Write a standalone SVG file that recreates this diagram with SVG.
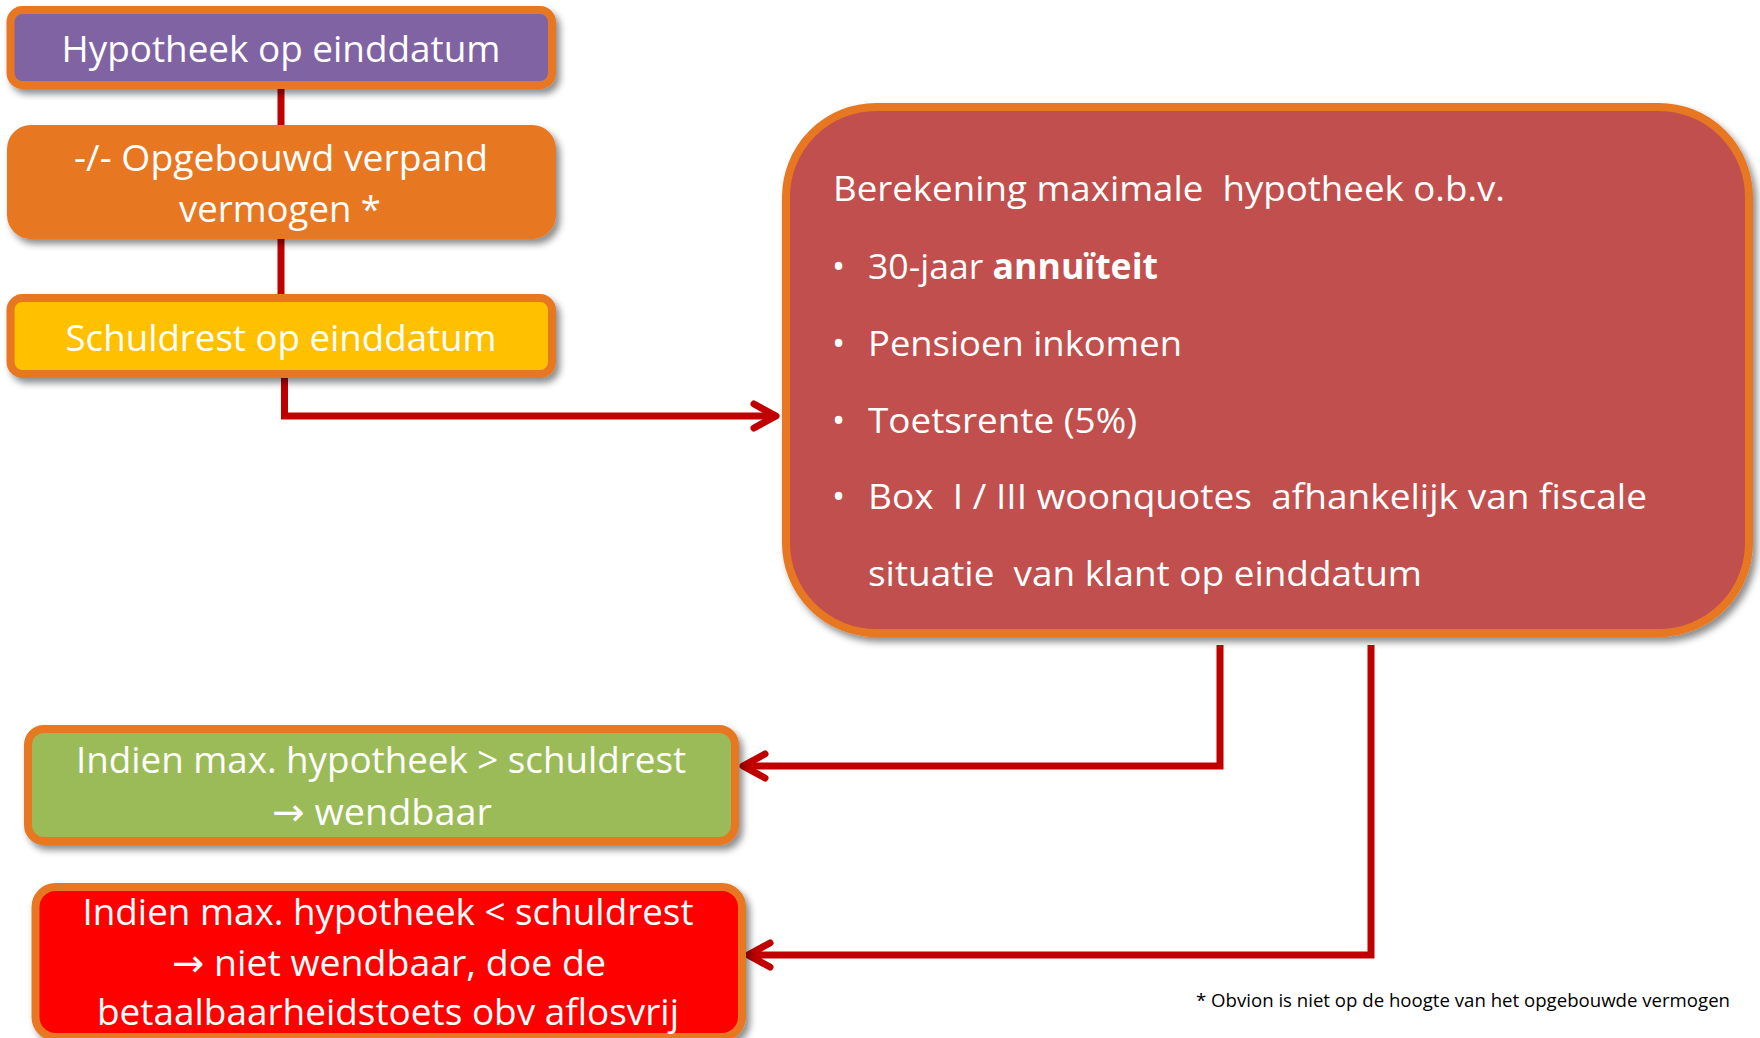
<svg xmlns="http://www.w3.org/2000/svg" width="1760" height="1038" viewBox="0 0 1760 1038">
<style>
  .lbl { font-family: "Open Sans", "Liberation Sans", sans-serif; fill: #FFFFFF; }
  .box { font-size: 37px; text-anchor: middle; }
  .big { font-size: 35px; }
  .arw { font-family: "DejaVu Sans", sans-serif; font-size: 38px; }
  .note { font-family: "Open Sans", "Liberation Sans", sans-serif; font-size: 19px; fill: #000000; }
  .conn { fill: none; stroke: #C00000; stroke-width: 7; stroke-linejoin: miter; }
</style>
<defs>
  <filter id="sh" x="-10%" y="-10%" width="125%" height="130%">
    <feDropShadow dx="4" dy="5" stdDeviation="3.5" flood-color="#000000" flood-opacity="0.45"/>
  </filter>
  <marker id="arr" markerUnits="userSpaceOnUse" markerWidth="40" markerHeight="40" viewBox="-30 -20 40 40" refX="0" refY="0" orient="auto">
    <path d="M -22 -12 L 0 0 L -22 12" fill="none" stroke="#C00000" stroke-width="7" stroke-linecap="round" stroke-linejoin="round"/>
  </marker>
</defs>
<rect width="1760" height="1038" fill="#FFFFFF"/>

<g id="connectors">
  <line class="conn" x1="281" y1="86" x2="281" y2="128" stroke-width="8"/>
  <line class="conn" x1="281" y1="236" x2="281" y2="298" stroke-width="8"/>
  <path class="conn" d="M 284.5 374 V 416 H 776" marker-end="url(#arr)"/>
  <path class="conn" d="M 1220 645 V 766 H 743" marker-end="url(#arr)"/>
  <path class="conn" d="M 1371 645 V 955 H 748" marker-end="url(#arr)"/>
</g>

<g id="node-hypotheek">
  <rect x="10.5" y="10" width="541.5" height="75" rx="12" fill="#8064A2" stroke="#E87722" stroke-width="8" filter="url(#sh)"/>
  <text class="lbl box" x="281" y="62" textLength="439" lengthAdjust="spacingAndGlyphs">Hypotheek op einddatum</text>
</g>

<g id="node-opgebouwd">
  <rect x="7" y="125" width="549" height="114" rx="24" fill="#E87722" filter="url(#sh)"/>
  <text class="lbl box" x="281" y="171" textLength="414" lengthAdjust="spacingAndGlyphs">-/- Opgebouwd verpand</text>
  <text class="lbl box" x="280" y="222" textLength="202" lengthAdjust="spacingAndGlyphs">vermogen *</text>
</g>

<g id="node-schuldrest">
  <rect x="10.5" y="298" width="541.5" height="76" rx="12" fill="#FFC000" stroke="#E87722" stroke-width="8" filter="url(#sh)"/>
  <text class="lbl box" x="281" y="351" textLength="431" lengthAdjust="spacingAndGlyphs">Schuldrest op einddatum</text>
</g>

<g id="node-berekening">
  <rect x="786" y="107" width="963" height="526" rx="90" fill="#C0504D" stroke="#E87722" stroke-width="8" filter="url(#sh)"/>
  <text class="lbl big" x="833" y="201" xml:space="preserve" textLength="672" lengthAdjust="spacingAndGlyphs">Berekening maximale  hypotheek o.b.v.</text>
  <text class="lbl big" x="832" y="279">•</text>
  <text class="lbl big" x="868" y="279" textLength="290" lengthAdjust="spacingAndGlyphs">30-jaar <tspan font-weight="bold">annuïteit</tspan></text>
  <text class="lbl big" x="832" y="356">•</text>
  <text class="lbl big" x="868" y="356" textLength="314" lengthAdjust="spacingAndGlyphs">Pensioen inkomen</text>
  <text class="lbl big" x="832" y="433">•</text>
  <text class="lbl big" x="868" y="433" textLength="269" lengthAdjust="spacingAndGlyphs">Toetsrente (5%)</text>
  <text class="lbl big" x="832" y="509">•</text>
  <text class="lbl big" x="868" y="509" xml:space="preserve" textLength="779" lengthAdjust="spacingAndGlyphs">Box  I / III woonquotes  afhankelijk van fiscale</text>
  <text class="lbl big" x="868" y="586" xml:space="preserve" textLength="554" lengthAdjust="spacingAndGlyphs">situatie  van klant op einddatum</text>
</g>

<g id="node-wendbaar">
  <rect x="28" y="729" width="707" height="112" rx="16" fill="#9BBB59" stroke="#E87722" stroke-width="8" filter="url(#sh)"/>
  <text class="lbl box" x="381" y="773" textLength="610" lengthAdjust="spacingAndGlyphs">Indien max. hypotheek &gt; schuldrest</text>
  <text class="lbl box" x="382" y="825" textLength="220" lengthAdjust="spacingAndGlyphs"><tspan class="arw">→</tspan> wendbaar</text>
</g>

<g id="node-niet-wendbaar">
  <rect x="35.5" y="887" width="706.5" height="150" rx="20" fill="#FF0000" stroke="#E87722" stroke-width="8" filter="url(#sh)"/>
  <text class="lbl box" x="388" y="925" textLength="611" lengthAdjust="spacingAndGlyphs">Indien max. hypotheek &lt; schuldrest</text>
  <text class="lbl box" x="389" y="976" textLength="434" lengthAdjust="spacingAndGlyphs"><tspan class="arw">→</tspan> niet wendbaar, doe de</text>
  <text class="lbl box" x="388" y="1025" textLength="582" lengthAdjust="spacingAndGlyphs">betaalbaarheidstoets obv aflosvrij</text>
</g>

<g id="footnote">
  <text class="note" x="1196" y="1007" textLength="534" lengthAdjust="spacingAndGlyphs">* Obvion is niet op de hoogte van het opgebouwde vermogen</text>
</g>
</svg>
